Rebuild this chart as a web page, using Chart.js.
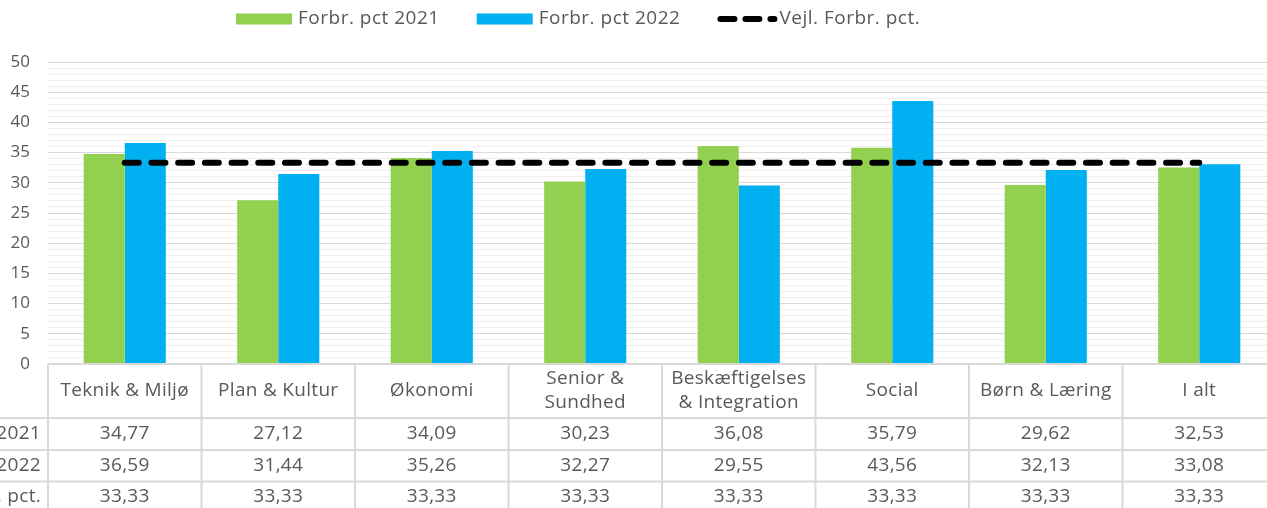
<!DOCTYPE html>
<html lang="da">
<head>
<meta charset="UTF-8">
<title>Forbrugsprocent 2021 og 2022</title>
<style>
  html, body { margin: 0; padding: 0; overflow: hidden; background: #fff; }
  #wrap { position: relative; width: 1267px; height: 508px; overflow: hidden; }
  #chart { position: absolute; left: -110px; top: 0; }
</style>
</head>
<body>
<div id="wrap"><canvas id="chart" width="1386" height="508"></canvas></div>

<script src="https://cdn.jsdelivr.net/npm/chart.js@4.4.7/dist/chart.umd.min.js"></script>
<script>
// data
const categories = [['Teknik & Miljø'], ['Plan & Kultur'], ['Økonomi'], ['Senior &', 'Sundhed'],
  ['Beskæftigelses', '& Integration'], ['Social'], ['Børn & Læring'], ['I alt']];
const seriesNames = ['Forbr. pct 2021', 'Forbr. pct 2022', 'Vejl. Forbr. pct.'];
const forbr2021 = [34.77, 27.12, 34.09, 30.23, 36.08, 35.79, 29.62, 32.53];
const forbr2022 = [36.59, 31.44, 35.26, 32.27, 29.55, 43.56, 32.13, 33.08];
const vejledende = [33.33, 33.33, 33.33, 33.33, 33.33, 33.33, 33.33, 33.33];
const yTicks = [0, 5, 10, 15, 20, 25, 30, 35, 40, 45, 50];

const textColor = '#595959';
const fontName = '"Open Sans", sans-serif';
const fmt = v => v.toFixed(2).replace('.', ',');

// tabel under grafen (som Excel datatabel)
const tablePlugin = {
  id: 'dataTable',
  afterDraw(chart) {
    const { ctx, chartArea } = chart;
    const n = categories.length;
    const colW = (chartArea.right - chartArea.left) / n;
    const top = chartArea.bottom;
    const rowLines = [top + 54, top + 86, top + 117.5];
    const rowMids = [top + 70, top + 102, top + 133];
    const rows = [forbr2021, forbr2022, vejledende];

    ctx.save();
    ctx.strokeStyle = '#d9d9d9';
    ctx.lineWidth = 2;
    ctx.beginPath();
    ctx.moveTo(chartArea.left, top);
    ctx.lineTo(chartArea.right, top);
    rowLines.forEach(y => {
      ctx.moveTo(0, y);
      ctx.lineTo(chartArea.right, y);
    });
    for (let i = 0; i <= n; i++) {
      const x = chartArea.left + i * colW;
      ctx.moveTo(x, top);
      ctx.lineTo(x, chart.height);
    }
    ctx.stroke();

    ctx.fillStyle = textColor;
    ctx.textBaseline = 'middle';
    ctx.textAlign = 'center';
    ctx.font = '19px ' + fontName;
    ctx.letterSpacing = '0.3px';
    categories.forEach((lines, i) => {
      const cx = chart.scales.x.getPixelForValue(i);
      const y0 = top + 27 - (lines.length - 1) * 12;
      lines.forEach((t, j) => ctx.fillText(t, cx, y0 + j * 24));
    });
    rows.forEach((vals, r) => {
      vals.forEach((v, i) => {
        ctx.fillText(fmt(v), chart.scales.x.getPixelForValue(i), rowMids[r]);
      });
    });
    ctx.textAlign = 'right';
    seriesNames.forEach((name, r) => ctx.fillText(name, chartArea.left - 7, rowMids[r]));
    ctx.restore();
  }
};

// forklaring øverst
const legendPlugin = {
  id: 'topLegend',
  afterDraw(chart) {
    const ctx = chart.ctx;
    const yMid = 19;
    let xPos = 346;
    ctx.save();
    ctx.font = '19px ' + fontName;
    ctx.letterSpacing = '0.5px';
    ctx.textBaseline = 'middle';
    chart.data.datasets.forEach(ds => {
      if (ds.type === 'line') {
        ctx.strokeStyle = ds.borderColor;
        ctx.lineWidth = 6;
        ctx.lineCap = 'round';
        ctx.setLineDash([14, 11]);
        ctx.beginPath();
        ctx.moveTo(xPos + 3, yMid);
        ctx.lineTo(xPos + 57, yMid);
        ctx.stroke();
        ctx.setLineDash([]);
        xPos += 62;
      } else {
        ctx.fillStyle = ds.backgroundColor;
        ctx.fillRect(xPos, yMid - 5.5, 56, 11);
        xPos += 62;
      }
      ctx.fillStyle = textColor;
      ctx.fillText(ds.label, xPos, yMid);
      xPos += ctx.measureText(ds.label).width + 37;
    });
    ctx.restore();
  }
};

new Chart(document.getElementById('chart'), {
  type: 'bar',
  data: {
    labels: categories,
    datasets: [
      {
        label: seriesNames[0],
        data: forbr2021,
        backgroundColor: '#92d050',
        categoryPercentage: 0.535,
        barPercentage: 1,
        order: 1
      },
      {
        label: seriesNames[1],
        data: forbr2022,
        backgroundColor: '#00b0f0',
        categoryPercentage: 0.535,
        barPercentage: 1,
        order: 1
      },
      {
        type: 'line',
        label: seriesNames[2],
        data: vejledende,
        borderColor: '#000000',
        borderWidth: 6,
        borderDash: [14, 12.7],
        borderCapStyle: 'round',
        pointRadius: 0,
        fill: false,
        order: 0
      }
    ]
  },
  options: {
    responsive: false,
    animation: false,
    devicePixelRatio: 1,
    layout: { padding: { top: 62, bottom: 144, left: 0, right: 0 } },
    plugins: {
      legend: { display: false },
      tooltip: { enabled: false }
    },
    scales: {
      x: {
        display: false
      },
      y: {
        min: 0,
        max: 50,
        afterFit: scale => { scale.width = 158; },
        border: { display: false },
        grid: {
          drawTicks: false,
          color: c => (yTicks.includes(c.tick.value) ? '#d9d9d9' : '#efefef'),
          lineWidth: 1
        },
        ticks: {
          stepSize: 1,
          autoSkip: false,
          padding: 18,
          color: textColor,
          font: { family: fontName, size: 17 },
          callback: v => (yTicks.includes(v) ? String(v) : '')
        }
      }
    }
  },
  plugins: [tablePlugin, legendPlugin]
});
</script>
</body>
</html>
